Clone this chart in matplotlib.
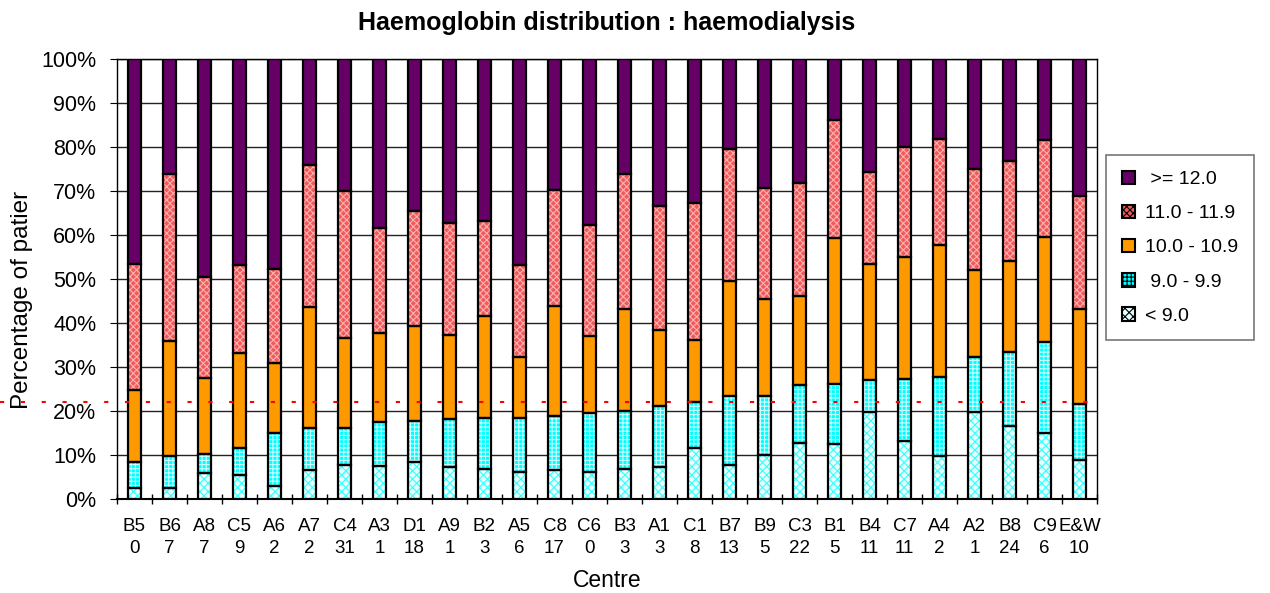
import matplotlib
matplotlib.use("Agg")
import matplotlib.pyplot as plt
import matplotlib.transforms as mtransforms
import numpy as np
from matplotlib.patches import Patch
from matplotlib.ticker import FuncFormatter, MultipleLocator

plt.rcParams['font.family'] = ['Liberation Sans', 'DejaVu Sans']
plt.rcParams['hatch.linewidth'] = 0.8

centres = ["B5", "B6", "A8", "C5", "A6", "A7", "C4", "A3", "D1", "A9", "B2", "A5", "C8", "C6",
           "B3", "A1", "C1", "B7", "B9", "C3", "B1", "B4", "C7", "A4", "A2", "B8", "C9", "E&W"]
counts = ["0", "7", "7", "9", "2", "2", "31", "1", "18", "1", "3", "6", "17", "0",
          "3", "3", "8", "13", "5", "22", "5", "11", "11", "2", "1", "24", "6", "10"]

# cumulative tops (percent)
top_lt9 = [2.4, 2.4, 5.8, 5.5, 3.0, 6.6, 7.7, 7.4, 8.4, 7.2, 6.9, 6.1, 6.6, 6.1,
           6.9, 7.2, 11.6, 7.7, 10.1, 12.7, 12.4, 19.7, 13.1, 9.7, 19.7, 16.5, 15.0, 8.8]
top_9 = [8.4, 9.7, 10.3, 11.5, 15.0, 16.2, 16.2, 17.4, 17.7, 18.1, 18.4, 18.4, 18.8, 19.6,
         20.0, 21.1, 22.0, 23.5, 23.5, 25.8, 26.2, 27.1, 27.3, 27.7, 32.3, 33.5, 35.7, 21.5]
top_10 = [24.7, 35.8, 27.6, 33.2, 30.8, 43.6, 36.6, 37.7, 39.3, 37.3, 41.6, 32.3, 43.9, 37.0,
          43.1, 38.5, 36.1, 49.5, 45.5, 46.1, 59.3, 53.5, 55.0, 57.7, 52.0, 54.2, 59.5, 43.1]
top_11 = [53.5, 73.9, 50.4, 53.1, 52.3, 75.8, 70.0, 61.6, 65.4, 62.7, 63.1, 53.1, 70.3, 62.3,
          73.9, 66.6, 67.3, 79.6, 70.7, 71.9, 86.2, 74.4, 80.0, 81.9, 75.0, 76.9, 81.6, 68.9]
top_all = [100.0] * 28
reference_line = 22.0

labels = ["< 9.0", " 9.0 - 9.9", "10.0 - 10.9", "11.0 - 11.9", " >= 12.0"]
faces = ["#E6FFFF", "#00FFFF", "#FF9900", "#F05A5A", "#660066"]
hatches = ["xxxx", "++++", None, "xxxxx", None]
hcols = ["#33FFFF", "#CCFFFF", None, "#FFB0B0", None]

tops = [np.array(top_lt9), np.array(top_9), np.array(top_10), np.array(top_11), np.array(top_all)]
bottoms = [np.zeros(28)] + tops[:-1]

fig = plt.figure(figsize=(12.7, 5.93), dpi=100)
ax = fig.add_axes([117 / 1270, 1 - 499 / 593, (1097 - 117) / 1270, (499 - 59) / 593])

x = np.arange(len(centres))
w = 0.38
for k in range(5):
    h = tops[k] - bottoms[k]
    if hatches[k]:
        ax.bar(x, h, w, bottom=bottoms[k], color=faces[k], hatch=hatches[k],
               edgecolor=hcols[k], linewidth=0, zorder=3)
    else:
        ax.bar(x, h, w, bottom=bottoms[k], color=faces[k], linewidth=0, zorder=3)
    ax.bar(x, h, w, bottom=bottoms[k], fill=False, edgecolor="black", linewidth=1.6, zorder=4)

# red dotted reference line running from the figure's left edge to the plot's right edge
trans = mtransforms.blended_transform_factory(ax.transAxes, ax.transData)
ax.plot([-117 / 980, 1.0], [reference_line, reference_line], transform=trans, color="red",
        linestyle=(0, (2, 8)), linewidth=1.5, zorder=5, clip_on=False)

ax.set_xlim(-0.5, len(centres) - 0.5)
ax.set_ylim(0, 100)
ax.yaxis.set_major_locator(MultipleLocator(10))
ax.yaxis.set_major_formatter(FuncFormatter(lambda v, p: f"{int(round(v))}%"))
ax.grid(axis="y", color="#222222", linewidth=1.0, zorder=0)
ax.set_axisbelow(True)
for s in ax.spines.values():
    s.set_linewidth(1.0)
    s.set_color("black")
ax.spines["bottom"].set_linewidth(1.5)

ax.set_xticks(x)
ax.set_xticklabels([f"{c}\n{n}" for c, n in zip(centres, counts)], fontsize=13.5,
                   linespacing=1.32)
ax.tick_params(axis="x", which="major", length=0, pad=14)
ax.set_xticks(np.arange(-0.5, len(centres), 1.0), minor=True)
ax.tick_params(axis="x", which="minor", length=7, direction="inout", width=1.0)
ax.tick_params(axis="y", which="major", length=5, direction="out", labelsize=15.5, pad=10)

ax.set_xlabel("Centre", fontsize=16.5, labelpad=9)
ax.set_ylabel("Percentage of patier", fontsize=17.5)
ax.yaxis.set_label_coords((33 - 117) / 980, (499 - 300) / 440)
fig.text(607 / 1270, 1 - 23 / 593, "Haemoglobin distribution : haemodialysis", ha="center",
         va="center", fontsize=18, fontweight="bold")

handles = []
for k in [4, 3, 2, 1, 0]:
    handles.append(Patch(facecolor=faces[k], hatch=hatches[k], edgecolor="black", linewidth=1.5,
                         label=labels[k]))
leg = fig.legend(handles=handles, loc="upper left",
                 bbox_to_anchor=(1106 / 1270, 1 - 155 / 593), fontsize=14,
                 frameon=True, fancybox=False, edgecolor="#555555", handlelength=0.7,
                 handleheight=0.7, labelspacing=0.85, borderpad=0.8, handletextpad=0.5,
                 borderaxespad=0)
leg.get_frame().set_linewidth(1.2)

fig.savefig("out.png", dpi=100)
